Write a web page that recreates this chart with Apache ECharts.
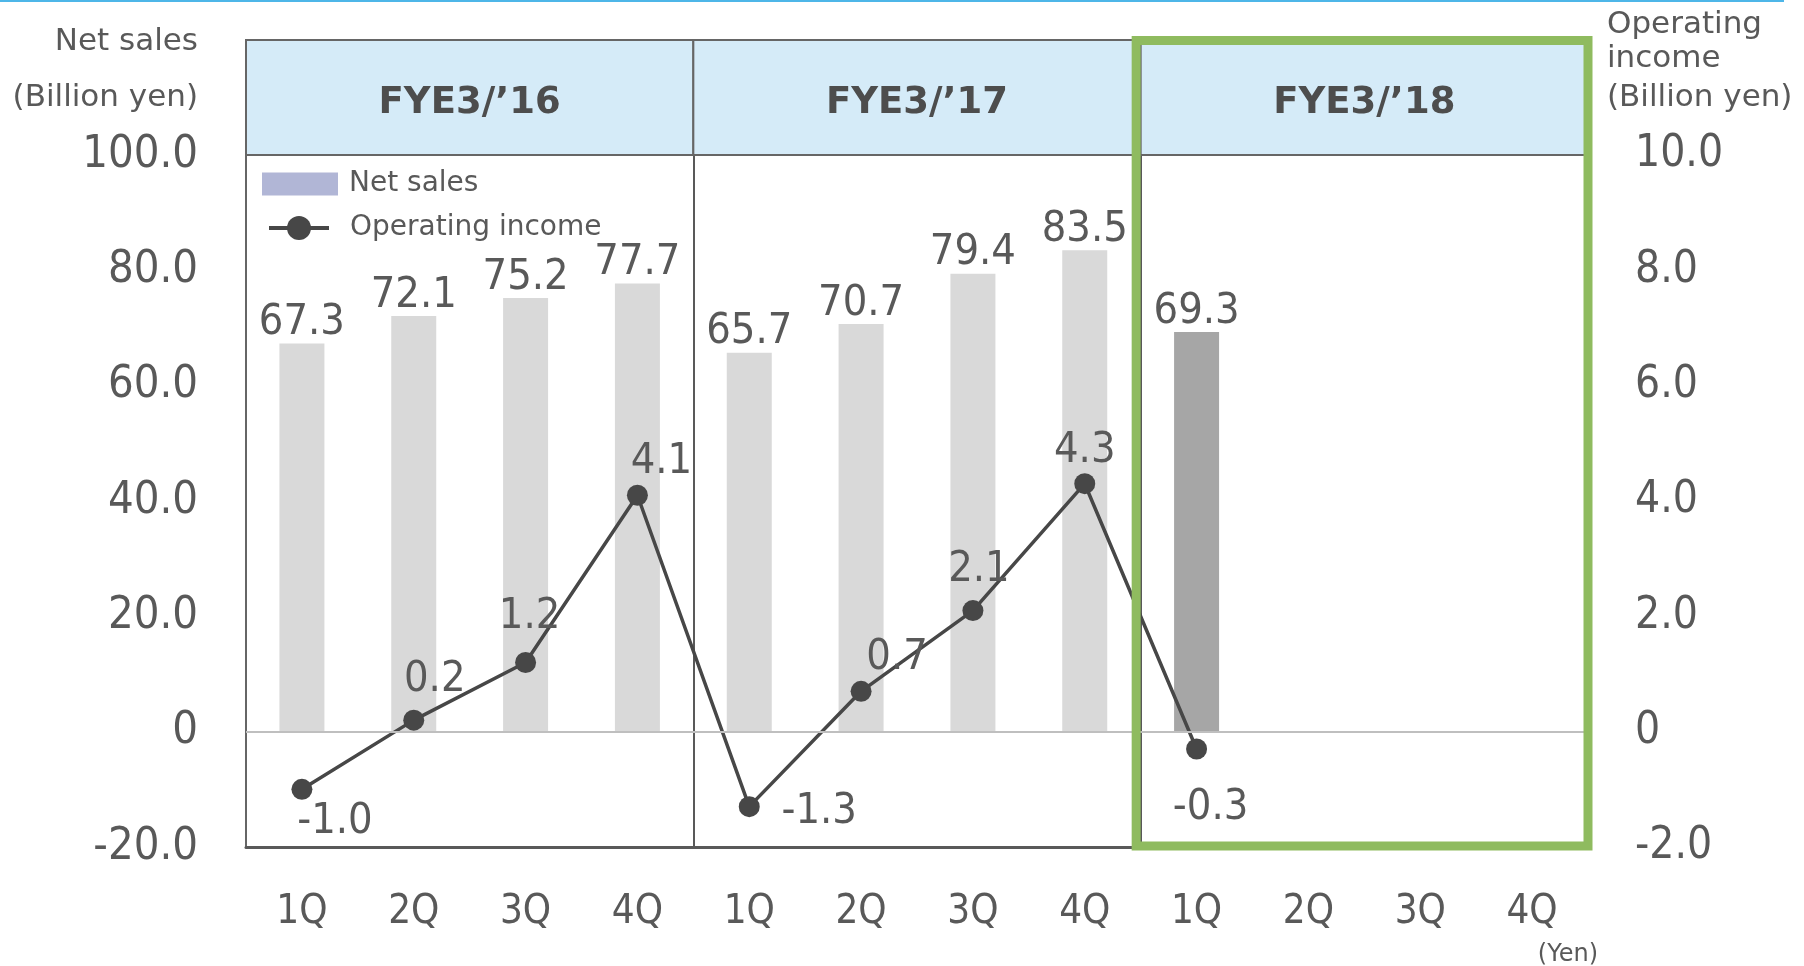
<!DOCTYPE html>
<html>
<head>
<meta charset="utf-8">
<script src="https://cdn.jsdelivr.net/npm/echarts@6/dist/echarts.min.js"></script>
<style>
    html, body { margin: 0; padding: 0; background: #fff; }
    #chart { width: 1804px; height: 966px; }
</style>
</head>
<body>
<div id="chart"></div>
<script>
var quarters = ['1Q', '2Q', '3Q', '4Q', '1Q', '2Q', '3Q', '4Q', '1Q', '2Q', '3Q', '4Q'];
var fiscalYears = ['FYE3/’16', 'FYE3/’17', 'FYE3/’18'];
// 売上高（十億円）
var netSales = [67.3, 72.1, 75.2, 77.7, 65.7, 70.7, 79.4, 83.5, 69.3, null, null, null];
// 営業利益（十億円）
var operatingIncome = [-1.0, 0.2, 1.2, 4.1, -1.3, 0.7, 2.1, 4.3, -0.3, null, null, null];
var salesTicks = [-20, 0, 20, 40, 60, 80, 100];
var incomeTicks = [-2, 0, 2, 4, 6, 8, 10];

// ラベル位置の微調整（点からのずれ px）
var incomeLabelOffsets = [[33, 32], [21, -40], [4, -46], [24, -33], [70, 5], [36, -33], [6, -41], [0, -33], [14, 59]];

var FONT = "'DejaVu Sans', sans-serif";
var FONT_C = "'DejaVu Sans Condensed', 'DejaVu Sans', sans-serif";
var TXT = '#595959';

var W = 1804, H = 966;
var gridL = 246, gridR = 1588, gridT = 155, gridB = 847;
var headT = 40;
var catW = (gridR - gridL) / quarters.length;

var latestIndex = 0;
for (var i = 0; i < netSales.length; i++) {
    if (netSales[i] != null) latestIndex = i;
}

function tickFmt(v) {
    return v === 0 ? '0' : v.toFixed(1);
}

var myChart = echarts.init(document.getElementById('chart'));

// 年度ヘッダー・軸名など
var graphics = [{
    type: 'rect',
    shape: { x: 0, y: 0, width: 1784, height: 2 },
    style: { fill: '#4db6e8' }
}, {
    type: 'text', x: 198, y: 42,
    style: { text: 'Net sales', font: '31px ' + FONT, fill: TXT, align: 'right', verticalAlign: 'middle' }
}, {
    type: 'text', x: 198, y: 98,
    style: { text: '(Billion yen)', font: '31px ' + FONT, fill: TXT, align: 'right', verticalAlign: 'middle' }
}, {
    type: 'text', x: 1607, y: 25,
    style: { text: 'Operating', font: '31px ' + FONT, fill: TXT, align: 'left', verticalAlign: 'middle' }
}, {
    type: 'text', x: 1607, y: 59,
    style: { text: 'income', font: '31px ' + FONT, fill: TXT, align: 'left', verticalAlign: 'middle' }
}, {
    type: 'text', x: 1607, y: 98,
    style: { text: '(Billion yen)', font: '31px ' + FONT, fill: TXT, align: 'left', verticalAlign: 'middle' }
}, {
    type: 'text', x: 1598, y: 955,
    style: { text: '(Yen)', font: '24px ' + FONT, fill: TXT, align: 'right', verticalAlign: 'middle' }
}];

for (var k = 0; k < fiscalYears.length; k++) {
    var x0 = gridL + k * 4 * catW;
    graphics.push({
        type: 'rect',
        z: 1,
        shape: { x: x0, y: headT, width: 4 * catW, height: gridT - headT },
        style: { fill: '#d5ebf8', stroke: '#666666', lineWidth: 2 }
    });
    graphics.push({
        type: 'text',
        z: 2,
        x: x0 + 2 * catW,
        y: 103,
        style: { text: fiscalYears[k], font: 'bold 37px ' + FONT, fill: '#4d4d4d', align: 'center', verticalAlign: 'middle' }
    });
}

// 今期の強調枠
var boxL = gridL + 8 * catW - 4.5;
graphics.push({
    type: 'rect',
    z: 100,
    shape: { x: boxL, y: 40.5, width: gridR - boxL, height: 846 - 40.5 },
    style: { fill: null, stroke: '#8fbb5f', lineWidth: 9 }
});

var legendText = { fontSize: 28, color: TXT, fontFamily: FONT };

var option = {
    animation: false,
    textStyle: { fontFamily: FONT },
    grid: {
        left: gridL,
        right: W - gridR,
        top: gridT,
        bottom: H - gridB
    },
    legend: [{
        left: 262,
        top: 170,
        padding: 0,
        itemWidth: 76,
        itemHeight: 23,
        icon: 'rect',
        textStyle: Object.assign({ padding: [0, 0, 0, 6] }, legendText),
        data: [{ name: 'Net sales', itemStyle: { color: '#b1b6d6' } }]
    }, {
        left: 267,
        top: 214,
        padding: 0,
        itemWidth: 60,
        itemHeight: 30,
        textStyle: Object.assign({ padding: [0, 0, 0, 16] }, legendText),
        data: [{ name: 'Operating income', lineStyle: { width: 4 } }]
    }],
    xAxis: {
        type: 'category',
        data: quarters,
        axisLine: { onZero: false, lineStyle: { color: '#595959', width: 3 } },
        axisTick: { show: false },
        axisLabel: { fontSize: 40, color: TXT, margin: 46, fontFamily: FONT_C },
        splitLine: {
            show: true,
            interval: function(index) {
                return index > 0 && index % 4 === 0;
            },
            lineStyle: { color: '#595959', width: 2 }
        }
    },
    yAxis: [{
        type: 'value',
        min: salesTicks[0],
        max: salesTicks[salesTicks.length - 1],
        interval: salesTicks[1] - salesTicks[0],
        axisLine: { show: true, lineStyle: { color: '#666666', width: 2 } },
        axisTick: { show: false },
        splitLine: { show: false },
        axisLabel: { fontSize: 45, color: TXT, margin: 48, fontFamily: FONT_C, formatter: tickFmt }
    }, {
        type: 'value',
        position: 'right',
        min: incomeTicks[0],
        max: incomeTicks[incomeTicks.length - 1],
        interval: incomeTicks[1] - incomeTicks[0],
        axisLine: { show: false },
        axisTick: { show: false },
        splitLine: { show: false },
        axisLabel: { fontSize: 44, color: TXT, margin: 47, fontFamily: FONT_C, formatter: tickFmt }
    }],
    series: [{
        name: 'Net sales',
        type: 'bar',
        data: netSales,
        barWidth: 45,
        itemStyle: {
            color: function(p) {
                return p.dataIndex === latestIndex ? '#a6a6a6' : '#d9d9d9';
            }
        },
        label: {
            show: true,
            position: 'top',
            distance: -1,
            fontSize: 43,
            fontFamily: FONT_C,
            color: TXT,
            formatter: function(p) {
                return p.value.toFixed(1);
            }
        },
        markLine: {
            silent: true,
            symbol: 'none',
            label: { show: false },
            lineStyle: { color: '#bfbfbf', width: 2, type: 'solid' },
            data: [{ yAxis: 0 }]
        }
    }, {
        name: 'Operating income',
        type: 'line',
        yAxisIndex: 1,
        data: operatingIncome.map(function(v, i) {
            if (v == null) return null;
            return { value: v, label: { offset: incomeLabelOffsets[i] } };
        }),
        symbol: 'circle',
        symbolSize: 21,
        lineStyle: { color: '#474747', width: 3.5 },
        itemStyle: { color: '#474747' },
        label: {
            show: true,
            position: 'inside',
            fontSize: 43,
            fontFamily: FONT_C,
            color: TXT,
            formatter: function(p) {
                return p.value.toFixed(1);
            }
        }
    }],
    graphic: graphics
};

myChart.setOption(option);
window.addEventListener('resize', function() {
    myChart.resize();
});
</script>
</body>
</html>
